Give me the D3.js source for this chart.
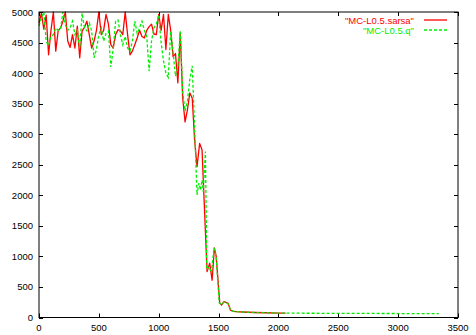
<!DOCTYPE html>
<html>
<head>
<meta charset="utf-8">
<script src="https://cdn.jsdelivr.net/npm/d3@7/dist/d3.min.js"></script>
<style>
  html, body { margin: 0; padding: 0; background: #fff; }
  svg { display: block; }
  text { font-family: "Liberation Sans", Arial, Helvetica, sans-serif; font-size: 9.5px; }
</style>
</head>
<body>
<svg id="chart" width="476" height="335"></svg>
<script>
// Episode numbers and steps-per-episode for the two learners
const sarsaEpisodes = [0,20,40,60,80,100,120,140,160,180,200,220,240,260,280,300,320,340,360,380,400,420,440,460,480,500,520,540,560,580,600,620,640,660,680,700,720,740,760,780,800,820,840,860,880,900,920,940,960,980,1000,1020,1040,1060,1080,1100,1120,1140,1160,1180,1200,1220,1240,1260,1280,1300,1320,1342,1362,1404,1426,1446,1465,1480,1510,1525,1545,1560,1580,1600,1625,1650,1700,1750,1800,1900,2000,2060];
const sarsaSteps    = [4820,4980,4720,4950,4300,4700,5000,4360,4690,4740,4850,5000,4525,4420,4630,4410,4770,4250,4690,4750,4850,4630,4410,4525,4700,5000,4630,4700,4960,4800,4465,4410,4630,4710,4690,4630,5000,4630,4300,4360,4465,4575,4700,4600,4575,4700,4760,4800,4640,4630,4960,4700,4960,4385,4960,4700,4270,4320,3840,4660,3600,3200,3400,3675,3590,2900,2470,2850,2740,750,890,610,1140,1000,235,205,260,250,230,120,100,95,90,86,82,78,72,70];

const qEpisodes = [0,20,40,60,80,100,120,140,160,180,200,220,240,260,280,300,320,340,360,380,400,420,440,460,480,500,520,540,560,580,600,620,640,660,680,700,720,740,760,780,800,820,840,860,880,900,920,940,960,980,1000,1020,1040,1060,1080,1100,1120,1140,1160,1180,1200,1220,1240,1260,1280,1300,1320,1335,1350,1362,1372,1390,1402,1420,1440,1462,1480,1505,1525,1545,1560,1580,1600,1625,1650,1700,1750,1800,1900,2000,2200,2500,2800,3000,3200,3340];
const qSteps    = [4770,4900,5000,4520,4450,4600,4630,4740,4700,4720,5000,4790,4700,4740,4850,4630,4700,4410,4980,4740,4690,4820,4690,4250,4390,4630,4740,4525,4650,4685,4100,4400,4850,4870,4630,4465,4600,4410,4360,4525,4850,4650,4740,4850,4700,4600,4030,4525,4740,4800,4950,4500,4200,4000,3930,4690,4350,3950,4100,4685,3700,3380,3545,3900,4120,3100,2005,2200,2085,2250,2060,2715,780,830,730,1140,1000,240,210,255,245,225,120,100,95,90,86,82,78,72,70,68,66,65,65,65];

const xTicks = [0,500,1000,1500,2000,2500,3000,3500];
const yTicks = [0,500,1000,1500,2000,2500,3000,3500,4000,4500,5000];

const seriesNames = ['"MC-L0.5.sarsa"', '"MC-L0.5.q"'];
const seriesColors = ["#ff0000", "#00ee00"];

const svg = d3.select("#chart");
const plotLeft = 39, plotRight = 458, plotTop = 12, plotBottom = 317.5;

const x = d3.scaleLinear().domain([0, 3500]).range([plotLeft, plotRight]);
const y = d3.scaleLinear().domain([0, 5000]).range([plotBottom, plotTop]);

// Inward ticks on all four sides of the frame
const tickLen = 4;
const axisG = svg.append("g").attr("stroke", "#000").attr("stroke-width", 1);
xTicks.forEach(t => {
  const px = Math.round(x(t)) + 0.5;
  axisG.append("line").attr("x1", px).attr("x2", px).attr("y1", plotBottom).attr("y2", plotBottom - tickLen);
  axisG.append("line").attr("x1", px).attr("x2", px).attr("y1", plotTop).attr("y2", plotTop + tickLen);
});
yTicks.forEach(t => {
  const py = Math.round(y(t)) + 0.5;
  axisG.append("line").attr("x1", plotLeft).attr("x2", plotLeft + tickLen).attr("y1", py).attr("y2", py);
  axisG.append("line").attr("x1", plotRight).attr("x2", plotRight - tickLen).attr("y1", py).attr("y2", py);
});

// Tick labels
svg.append("g").selectAll("text").data(xTicks).join("text")
  .attr("x", d => x(d)).attr("y", 330.5)
  .attr("text-anchor", "middle").attr("fill", "#000")
  .text(d => d);
svg.append("g").selectAll("text").data(yTicks).join("text")
  .attr("x", 33).attr("y", d => y(d) + 3.5)
  .attr("text-anchor", "end").attr("fill", "#000")
  .text(d => d);

// Data lines
const line = d3.line().x(d => x(d[0])).y(d => y(d[1]));
const sarsa = d3.zip(sarsaEpisodes, sarsaSteps);
const qlearn = d3.zip(qEpisodes, qSteps);

svg.append("path").datum(sarsa)
  .attr("d", line).attr("fill", "none")
  .attr("stroke", seriesColors[0]).attr("stroke-width", 1.3)
  .attr("stroke-linejoin", "round");
svg.append("path").datum(qlearn)
  .attr("d", line).attr("fill", "none")
  .attr("stroke", seriesColors[1]).attr("stroke-width", 1.3)
  .attr("stroke-dasharray", "3,2");

// Plot frame
svg.append("rect")
  .attr("x", plotLeft).attr("y", plotTop)
  .attr("width", plotRight - plotLeft).attr("height", plotBottom - plotTop)
  .attr("fill", "none").attr("stroke", "#000").attr("stroke-width", 1);

// Legend
const legend = svg.append("g");
seriesNames.forEach((name, i) => {
  const yy = 20 + i * 10;
  legend.append("text")
    .attr("x", 414).attr("y", yy + 3.5)
    .attr("text-anchor", "end").attr("fill", seriesColors[i])
    .text(name);
  legend.append("line")
    .attr("x1", 424).attr("x2", 447).attr("y1", yy).attr("y2", yy)
    .attr("stroke", seriesColors[i]).attr("stroke-width", 1.3)
    .attr("stroke-dasharray", i === 1 ? "3,2" : null);
});
</script>
</body>
</html>
